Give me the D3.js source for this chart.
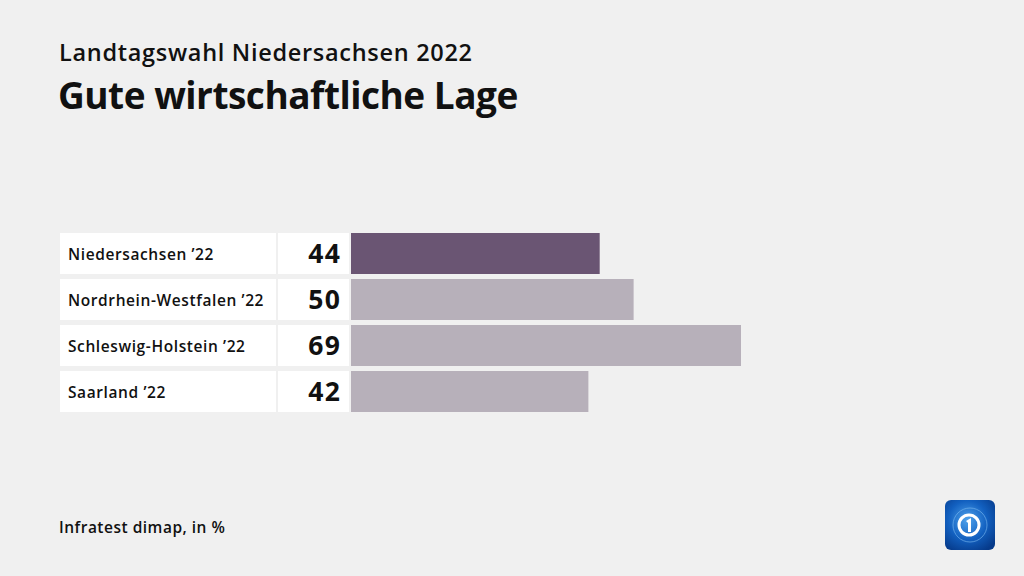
<!DOCTYPE html>
<html><head><meta charset="utf-8">
<script src="https://cdn.jsdelivr.net/npm/d3@7"></script>
<style>body{margin:0;background:#f0f0f0;}svg{display:block;}</style>
</head><body>
<script>
const categories = ["Niedersachsen ’22","Nordrhein-Westfalen ’22","Schleswig-Holstein ’22","Saarland ’22"];
const values = [44,50,69,42];
const highlight = [true,false,false,false];

const W=1024,H=576;
const svg=d3.select("body").append("svg").attr("width",W).attr("height",H);
svg.append("rect").attr("width",W).attr("height",H).attr("fill","#f0f0f0");
const font="'Open Sans', 'Noto Sans', sans-serif";

svg.append("text").attr("x",59).attr("y",61).text("Landtagswahl Niedersachsen 2022")
  .attr("font-family",font).attr("font-weight",600).attr("font-size",23.5).attr("fill","#111").attr("letter-spacing","0.7");
svg.append("text").attr("x",58).attr("y",109).text("Gute wirtschaftliche Lage")
  .attr("font-family",font).attr("font-weight",700).attr("font-size",37).attr("fill","#111").attr("letter-spacing","-0.5");

const y=d3.scaleBand().domain(categories).range([233,412]).paddingInner(5/46).paddingOuter(0);
const x=d3.scaleLinear().domain([0,69]).range([351,741]);

const g=svg.append("g");
const rows=g.selectAll("g.row").data(categories).join("g");
rows.append("rect").attr("x",60).attr("width",216).attr("y",d=>y(d)).attr("height",y.bandwidth()).attr("fill","#fff");
rows.append("rect").attr("x",278).attr("width",71).attr("y",d=>y(d)).attr("height",y.bandwidth()).attr("fill","#fff");
rows.append("rect").attr("x",x(0)).attr("y",d=>y(d)).attr("height",y.bandwidth())
  .attr("width",(d,i)=>x(values[i])-x(0)).attr("fill",(d,i)=>highlight[i]?"#6a5573":"#b7b0ba");
rows.append("text").attr("x",68).attr("y",d=>y(d)+y.bandwidth()/2+6).text(d=>d)
  .attr("font-family",font).attr("font-weight",600).attr("font-size",15.5).attr("fill","#111").attr("letter-spacing","0.6");
rows.append("text").attr("x",341.5).attr("y",d=>y(d)+y.bandwidth()/2+9.5).attr("text-anchor","end").text((d,i)=>values[i])
  .attr("font-family",font).attr("font-weight",700).attr("font-size",26.5).attr("fill","#111").attr("letter-spacing","1.5");

svg.append("text").attr("x",59).attr("y",533).text("Infratest dimap, in %")
  .attr("font-family",font).attr("font-weight",600).attr("font-size",15.5).attr("fill","#111").attr("letter-spacing","0.5");

// logo
const defs=svg.append("defs");
const rg=defs.append("radialGradient").attr("id","lg").attr("cx","45%").attr("cy","40%").attr("r","70%");
rg.append("stop").attr("offset","0%").attr("stop-color","#4fa3ec");
rg.append("stop").attr("offset","55%").attr("stop-color","#1260c0");
rg.append("stop").attr("offset","100%").attr("stop-color","#063a8a");
const lg=svg.append("g").attr("transform","translate(945,500)");
lg.append("rect").attr("width",50).attr("height",50).attr("rx",6).attr("fill","url(#lg)");
lg.append("circle").attr("cx",25).attr("cy",25).attr("r",17).attr("fill","none").attr("stroke","#7fbcf2").attr("stroke-width",1).attr("opacity",0.6);
lg.append("circle").attr("cx",24).attr("cy",25).attr("r",10).attr("fill","none").attr("stroke","#fff").attr("stroke-width",3);
lg.append("path").attr("d","M21 21 L26 18 L26 32 L23 32 L23 23 Z").attr("fill","#fff");
</script>
</body></html>
